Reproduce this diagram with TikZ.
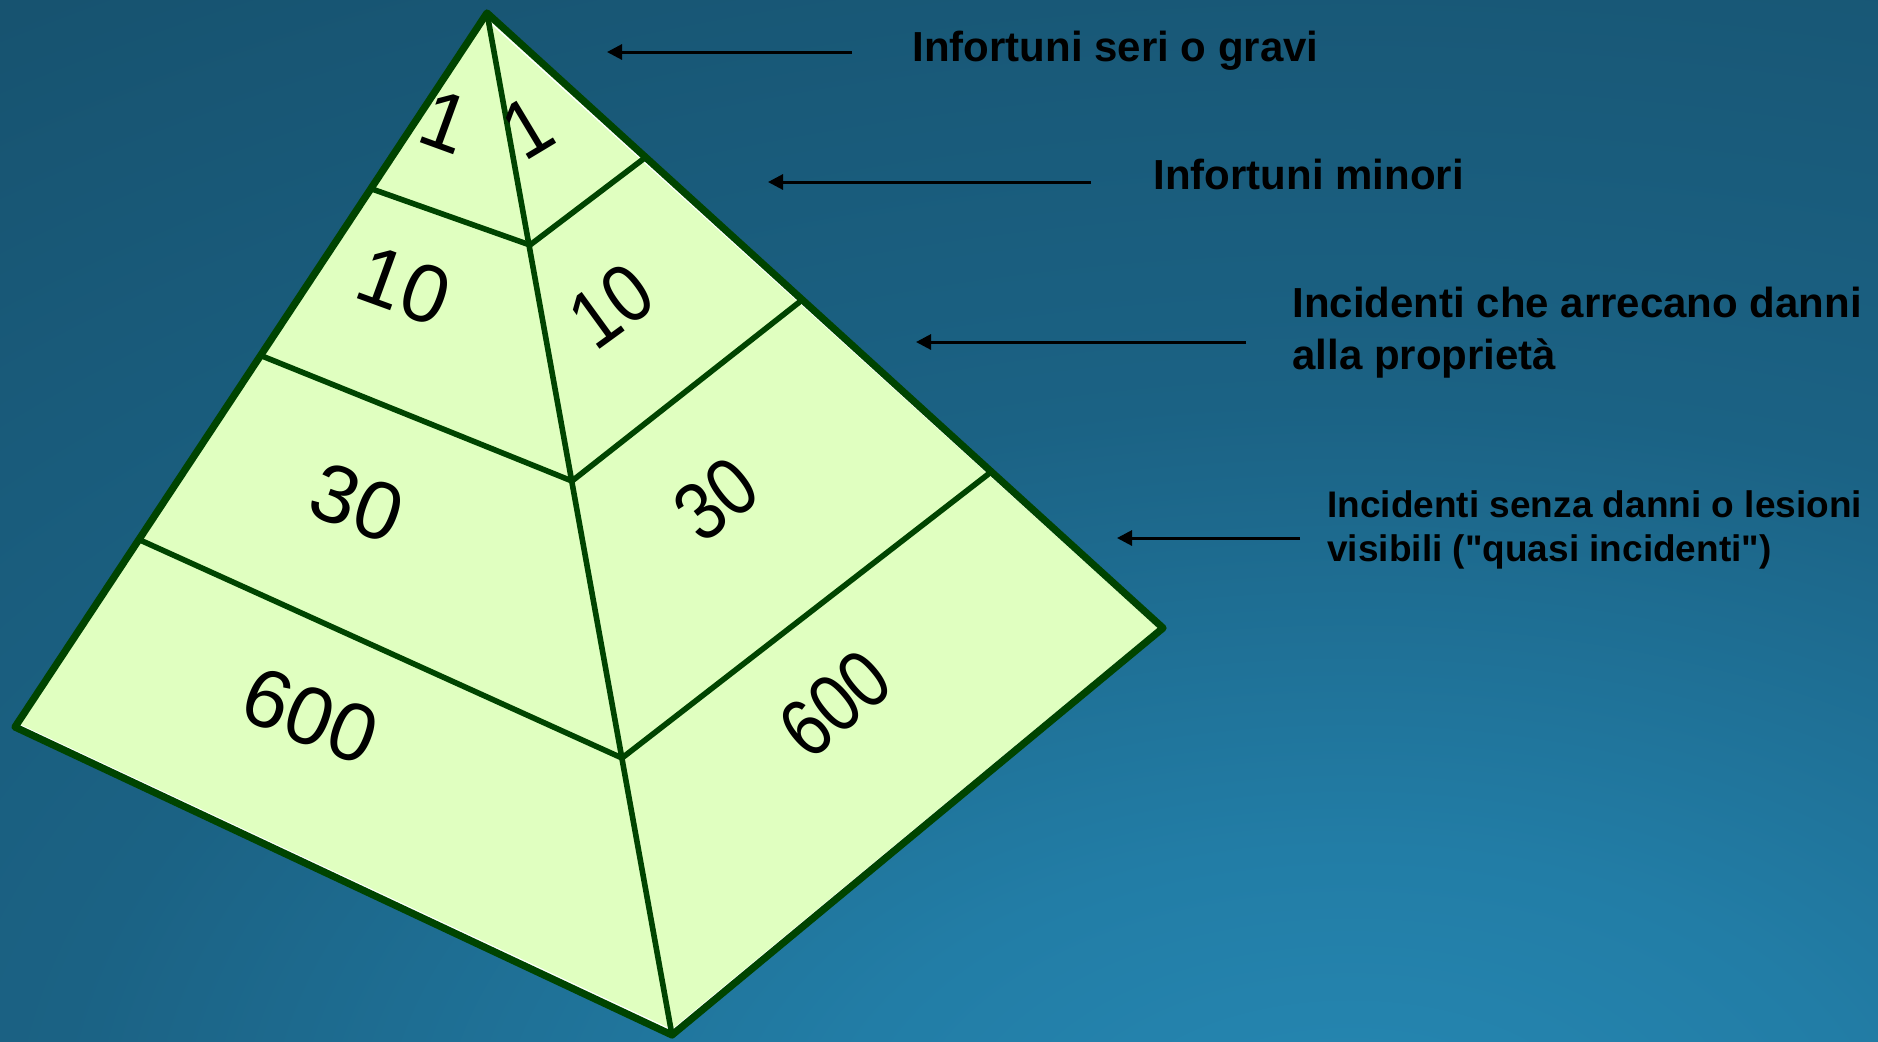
\documentclass[tikz,border=0pt]{standalone}
\usepackage{fontspec}
\setmainfont{Liberation Sans}[Ligatures=TeXOff]
\usetikzlibrary{arrows.meta}
\definecolor{bgA}{RGB}{38,136,179}
\definecolor{bgB}{RGB}{34,125,166}
\definecolor{bgC}{RGB}{27,98,132}
\definecolor{bgD}{RGB}{22,80,108}
\definecolor{bgE}{RGB}{19,66,93}
\definecolor{bgF}{RGB}{18,62,88}
\definecolor{facefill}{RGB}{224,255,192}
\definecolor{edgegreen}{RGB}{0,68,0}
\pgfdeclareradialshading{bgshade}{\pgfpoint{0bp}{0bp}}{color(0bp)=(bgA); color(5bp)=(bgB); color(12.5bp)=(bgC); color(25bp)=(bgD); color(37.5bp)=(bgE); color(50bp)=(bgF)}
\tikzset{
  outline/.style={draw=edgegreen, line width=3.6pt, line join=round},
  tier/.style={draw=edgegreen, line width=2.8pt, line cap=round},
  hilite/.style={draw=white, line width=0.7pt},
  num/.style={inner sep=0pt, font=\fontsize{41pt}{48pt}\selectfont, text=black},
  lbl/.style={inner sep=0pt, anchor=base west, font=\fontsize{21pt}{25pt}\selectfont\bfseries, text=black},
  lblsmall/.style={inner sep=0pt, anchor=base west, font=\fontsize{18.5pt}{22pt}\selectfont\bfseries, text=black},
  arr/.style={draw=black, line width=1.5pt, -{Triangle[length=7.5pt,width=7.5pt]}}
}
\begin{document}
\begin{tikzpicture}[x=0.5pt,y=-0.5pt]
\useasboundingbox (0,0) rectangle (1878,1041);
\begin{scope}
  \clip (0,0) rectangle (1878,1041);
  \fill[bgF] (0,0) rectangle (1878,1041);
  \shade[shading=bgshade] (1350,1150) ellipse [x radius=1300pt, y radius=750pt];
\end{scope}
% pyramid corners
\coordinate (A) at (487,13);
\coordinate (L) at (15,727);
\coordinate (B) at (672,1035);
\coordinate (R) at (1163,628);
% ridge points
\coordinate (P1) at (530,245);
\coordinate (P2) at (572,481);
\coordinate (P3) at (622,758);
% left edge points
\coordinate (L1) at (372,189);
\coordinate (L2) at (262,356);
\coordinate (L3) at (140,540);
% right edge points
\coordinate (R1) at (646,157);
\coordinate (R2) at (802,300);
\coordinate (R3) at (991,472);
\fill[facefill] (A) -- (R) -- (B) -- (L) -- cycle;
\draw[hilite] ([shift={(-3.2,3.6)}]A) -- ([shift={(-4.2,0)}]R);
\draw[hilite] ([shift={(-4.2,0)}]R) -- ([shift={(0,-4.8)}]B);
\draw[hilite] ([shift={(0,-4.8)}]B) -- ([shift={(4.8,-2)}]L);
\draw[tier] (A) -- (B);
\draw[tier] (L1) -- (P1) -- (R1);
\draw[tier] (L2) -- (P2) -- (R2);
\draw[tier] (L3) -- (P3) -- (R3);
\draw[outline] (A) -- (R) -- (B) -- (L) -- cycle;
% numbers, left face
\node[num, rotate=-20] (nl1) at (446,122) {1};
\node[num, rotate=-20] (nl10) at (404,286) {10};
\node[num, rotate=-20] (nl30) at (357,503) {30};
\node[num, rotate=-21] (nl600) at (310,716) {600};
% numbers, right face
\node[num, rotate=31, xscale=0.9] (nr1) at (528,128) {1};
\node[num, rotate=36, xscale=0.88] (nr10) at (611,306) {10};
\node[num, rotate=38, xscale=0.86] (nr30) at (716,499) {30};
\node[num, rotate=40, xscale=0.84] (nr600) at (835,704) {600};
% labels
\node[lbl] (t1) at (912,61) {Infortuni seri o gravi};
\node[lbl] (t2) at (1153,189) {Infortuni minori};
\node[lbl] (t3a) at (1292,317) {Incidenti che arrecano danni};
\node[lbl] (t3b) at (1292,369) {alla proprietà};
\node[lblsmall] (t4a) at (1327,517) {Incidenti senza danni o lesioni};
\node[lblsmall] (t4b) at (1327,561) {visibili ("quasi incidenti")};
% arrows
\coordinate (a1s) at (852,52);   \coordinate (a1e) at (607,52);
\coordinate (a2s) at (1091,182); \coordinate (a2e) at (768,182);
\coordinate (a3s) at (1246,342); \coordinate (a3e) at (916,342);
\coordinate (a4s) at (1300,538); \coordinate (a4e) at (1117,538);
\draw[arr] (a1s) -- (a1e);
\draw[arr] (a2s) -- (a2e);
\draw[arr] (a3s) -- (a3e);
\draw[arr] (a4s) -- (a4e);
\end{tikzpicture}
\end{document}
